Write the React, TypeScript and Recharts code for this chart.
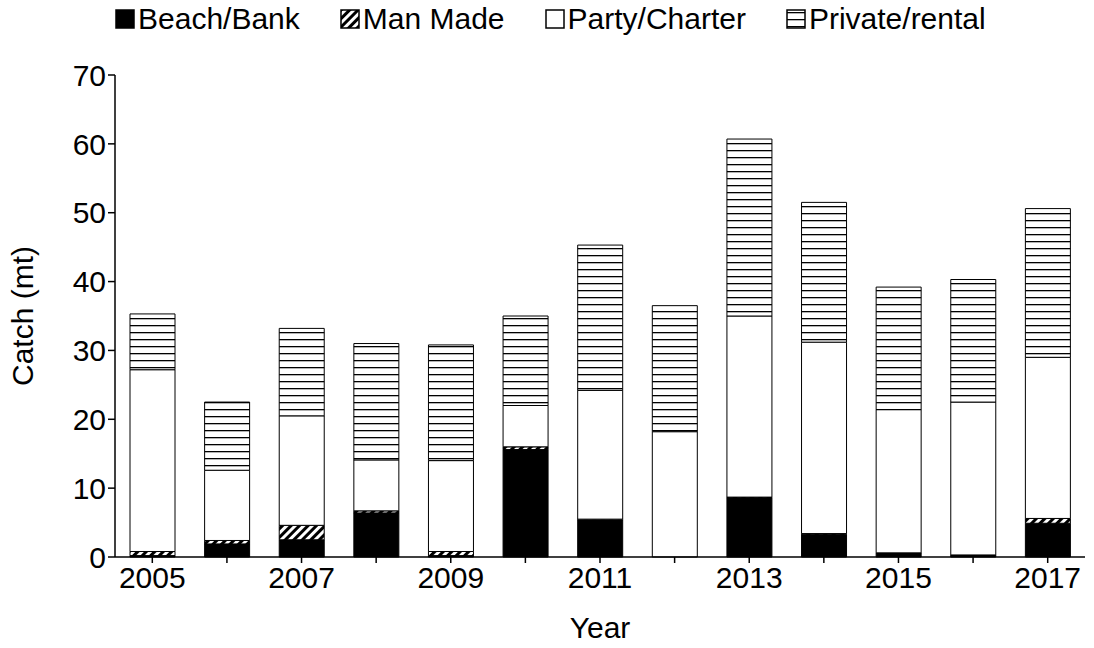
import React from 'react';
import { BarChart, Bar, XAxis, YAxis } from 'recharts';

const years = ['2005','2006','2007','2008','2009','2010','2011','2012','2013','2014','2015','2016','2017'];
const beach = [0.2,1.9,2.5,6.4,0.2,15.6,5.4,0,8.6,3.3,0.6,0.3,4.9];
const manMade = [0.6,0.5,2.1,0.3,0.6,0.4,0.1,0,0.1,0.1,0,0,0.7];
const party = [26.4,10.2,15.9,7.4,13.2,6.0,18.7,18.2,26.3,27.8,20.8,22.2,23.4];
const priv = [8.1,9.9,12.7,16.9,16.8,13.0,21.1,18.3,25.7,20.3,17.8,17.8,21.6];
const yTicks = [0,10,20,30,40,50,60,70];

const data = years.map((y, i) => ({ year: y, beach: beach[i], manMade: manMade[i], party: party[i], priv: priv[i] }));

const items = [
  { name: 'Beach/Bank', fill: '#000' },
  { name: 'Man Made', fill: 'url(#diag)' },
  { name: 'Party/Charter', fill: '#fff' },
  { name: 'Private/rental', fill: 'url(#horiz)' },
];

const font = 'Liberation Sans, Arial';

export default function App() {
  return (
    <div style={{ position: 'absolute', left: 0, top: 0, width: 1094, height: 648, background: '#fff' }}>
      <svg width={0} height={0} style={{ position: 'absolute' }}>
        <defs>
          <pattern id="diag" width="6" height="6" patternUnits="userSpaceOnUse" patternTransform="rotate(45)">
            <rect width="6" height="6" fill="#fff" />
            <rect width="3" height="6" fill="#000" />
          </pattern>
          <pattern id="horiz" width="8" height="7" patternUnits="userSpaceOnUse">
            <rect width="8" height="7" fill="#fff" />
            <rect y="3" width="8" height="1.3" fill="#000" />
          </pattern>
        </defs>
      </svg>
      <div style={{ position: 'absolute', top: 2, left: 115, display: 'flex', gap: 40, fontFamily: font, fontSize: 30, color: '#000' }}>
        {items.map(it => (
          <span key={it.name} style={{ display: 'flex', alignItems: 'center' }}>
            <svg width={20} height={20} style={{ marginRight: 3 }}>
              <rect x={1} y={1} width={18} height={18} fill={it.fill} stroke="#000" strokeWidth={1.5} />
            </svg>
            {it.name}
          </span>
        ))}
      </div>
      <BarChart width={1094} height={648} data={data} barSize={45}
        margin={{ top: 75, right: 9, bottom: 8, left: 30 }}>
        <XAxis dataKey="year" stroke="#000" strokeWidth={1.5} tickLine={{ stroke: '#000' }}
          interval={0} tickFormatter={(v: string, i: number) => (i % 2 === 0 ? v : '')}
          tick={{ fill: '#000', fontSize: 30, fontFamily: font }} tickMargin={4} height={83}
          label={{ value: 'Year', position: 'insideBottom', offset: 2, fill: '#000', fontSize: 30, fontFamily: font }} />
        <YAxis domain={[0, 70]} ticks={yTicks} stroke="#000" strokeWidth={1.5} width={85}
          tick={{ fill: '#000', fontSize: 30, fontFamily: font }} tickSize={7}
          label={{ value: 'Catch (mt)', angle: -90, position: 'insideLeft', offset: -8, dy: 70, fill: '#000', fontSize: 30, fontFamily: font }} />
        <Bar dataKey="beach" stackId="a" fill="#000" stroke="#000" strokeWidth={1} isAnimationActive={false} />
        <Bar dataKey="manMade" stackId="a" fill="url(#diag)" stroke="#000" strokeWidth={1} isAnimationActive={false} />
        <Bar dataKey="party" stackId="a" fill="#fff" stroke="#000" strokeWidth={1} isAnimationActive={false} />
        <Bar dataKey="priv" stackId="a" fill="url(#horiz)" stroke="#000" strokeWidth={1} isAnimationActive={false} />
      </BarChart>
    </div>
  );
}
